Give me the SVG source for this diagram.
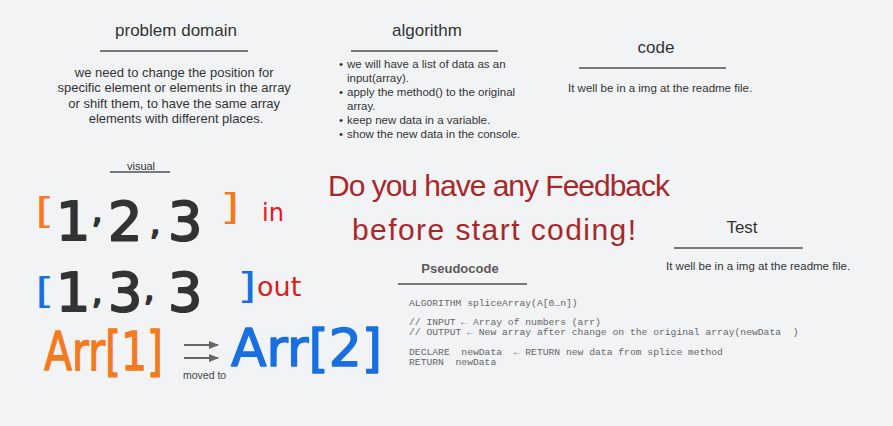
<svg xmlns="http://www.w3.org/2000/svg" width="893" height="426" viewBox="0 0 893 426">
  <style>
    .h { font-family: "Liberation Sans", Arial, sans-serif; font-size: 17px; fill: #333; text-anchor: middle; }
    .b { font-family: "Liberation Sans", Arial, sans-serif; font-size: 13px; fill: #333; }
    .s { font-family: "Liberation Sans", Arial, sans-serif; font-size: 11.5px; fill: #333; }
    .ul { stroke: #7a7a7a; stroke-width: 2; }
    .mono { font-family: "Liberation Mono", "DejaVu Sans Mono", monospace; font-size: 9.7px; fill: #666; white-space: pre; }
    .hw { font-family: "DejaVu Sans", "Liberation Sans", sans-serif; stroke-linejoin: round; stroke-linecap: round; }
    .num { font-size: 54px; fill: #333; stroke: #333; stroke-width: 2; }
    .cm { font-size: 32px; fill: #333; stroke: #333; stroke-width: 2; }
    .br { font-size: 36px; }
    .fb { font-family: "Liberation Sans", sans-serif; font-size: 30px; fill: #a8282a; }
  </style>
  <defs>
    <marker id="ah" markerWidth="10" markerHeight="8" refX="9" refY="4" orient="auto" markerUnits="userSpaceOnUse">
      <path d="M0,0 L10,4 L0,8 Z" fill="#666"/>
    </marker>
  </defs>
  <rect width="893" height="426" fill="#f2f3f5"/>

  <g id="problem-domain">
    <text class="h" x="176" y="36">problem domain</text>
    <line class="ul" x1="100" y1="51" x2="248" y2="51"/>
    <text class="b" text-anchor="middle">
      <tspan x="176" y="77">we need to change the position for</tspan>
      <tspan x="176" y="92">specific element or elements in the array</tspan>
      <tspan x="176" y="108">or shift them, to have the same array</tspan>
      <tspan x="176" y="123">elements with different places.</tspan>
    </text>
  </g>

  <g id="algorithm">
    <text class="h" x="427" y="36">algorithm</text>
    <line class="ul" x1="351" y1="51" x2="498" y2="51"/>
    <text class="s">
      <tspan x="339" y="68">•</tspan><tspan x="347" y="68">we will have a list of data as an</tspan>
      <tspan x="347" y="82">input(array).</tspan>
      <tspan x="339" y="96">•</tspan><tspan x="347" y="96">apply the method() to the original</tspan>
      <tspan x="347" y="110">array.</tspan>
      <tspan x="339" y="124">•</tspan><tspan x="347" y="124">keep new data in a variable.</tspan>
      <tspan x="339" y="138">•</tspan><tspan x="347" y="138">show the new data in the console.</tspan>
    </text>
  </g>

  <g id="code">
    <text class="h" x="656" y="53">code</text>
    <line class="ul" x1="579" y1="68" x2="726" y2="68"/>
    <text class="s" x="568" y="92">It well be in a img at the readme file.</text>
  </g>

  <g id="test">
    <text class="h" x="742" y="233">Test</text>
    <line class="ul" x1="674" y1="248" x2="803" y2="248"/>
    <text class="s" x="666" y="270">It well be in a img at the readme file.</text>
  </g>

  <g id="pseudocode">
    <text x="460" y="273" text-anchor="middle" style="font-family:'Liberation Sans',Arial,sans-serif;font-size:13px;font-weight:bold;fill:#5a5a5a">Pseudocode</text>
    <line class="ul" x1="398" y1="284" x2="527" y2="284"/>
    <text class="mono" xml:space="preserve"><tspan x="409" y="306">ALGORITHM spliceArray(A[0…n])</tspan><tspan x="409" y="325">// INPUT ← Array of numbers (arr)</tspan><tspan x="409" y="335">// OUTPUT ← New array after change on the original array(newData  )</tspan><tspan x="409" y="355">DECLARE  newData  ← RETURN new data from splice method</tspan><tspan x="409" y="365">RETURN  newData</tspan></text>
  </g>

  <g id="visual">
    <text x="141" y="170" text-anchor="middle" style="font-family:'Liberation Sans',Arial,sans-serif;font-size:11px;fill:#333">visual</text>
    <line class="ul" x1="110" y1="172" x2="170" y2="172"/>
  </g>

  <g id="array-in">
    <text class="hw br" transform="translate(35,223) scale(1.4,1)" style="fill:#f47a20">[</text>
    <text class="hw num" x="56" y="240">1</text>
    <text class="hw cm" x="92" y="222">,</text>
    <text class="hw num" x="108" y="240">2</text>
    <text class="hw cm" x="150" y="234">,</text>
    <text class="hw num" x="168" y="240">3</text>
    <text class="hw br" transform="translate(220,219) scale(1.4,1)" style="fill:#f47a20">]</text>
    <text class="hw" x="262" y="221" style="font-size:24px;fill:#e01b1b">in</text>
  </g>

  <g id="array-out">
    <text class="hw br" transform="translate(35,303) scale(1.4,1)" style="fill:#1a6fe0">[</text>
    <text class="hw num" x="56" y="311">1</text>
    <text class="hw cm" x="92" y="303">,</text>
    <text class="hw num" x="108" y="311">3</text>
    <text class="hw cm" x="144" y="300">,</text>
    <text class="hw num" x="168" y="311">3</text>
    <text class="hw br" transform="translate(237,298) scale(1.4,1)" style="fill:#1a6fe0">]</text>
    <text class="hw" x="257" y="296" style="font-size:27px;fill:#e01b1b">out</text>
  </g>

  <g id="arr-1">
    <text class="hw" transform="translate(44,370) scale(1,1.3)" style="font-size:41px;fill:#f47a20;stroke:#f47a20;stroke-width:1">Arr[1]</text>
  </g>

  <g id="arr-2">
    <text class="hw" x="231" y="366" style="font-size:52px;fill:#1a6fe0;stroke:#1a6fe0;stroke-width:1.5">Arr[2]</text>
  </g>

  <g id="feedback">
    <text class="fb" x="328" y="196" textLength="342" lengthAdjust="spacing">Do you have any Feedback</text>
    <text class="fb" x="352" y="240" textLength="284" lengthAdjust="spacing">before start coding!</text>
  </g>

  <g id="connectors">
    <line x1="184" y1="345" x2="218" y2="345" stroke="#666" stroke-width="2" marker-end="url(#ah)"/>
    <line x1="184" y1="358" x2="218" y2="358" stroke="#666" stroke-width="2" marker-end="url(#ah)"/>
    <text x="183" y="379" style="font-family:'Liberation Sans',Arial,sans-serif;font-size:10.5px;fill:#444">moved to</text>
  </g>
</svg>
